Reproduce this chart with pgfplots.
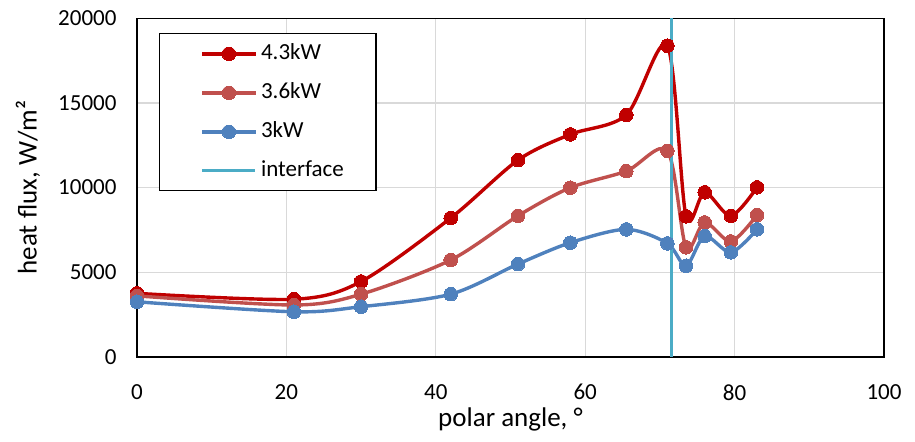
\documentclass[border=0pt]{standalone}
\usepackage{fontspec}
\setmainfont{Carlito}
\usepackage{pgfplots}
\pgfplotsset{compat=1.18}

\definecolor{kwhigh}{HTML}{C00000}
\definecolor{kwmid}{HTML}{C0504D}
\definecolor{kwlow}{HTML}{4F81BD}
\definecolor{iface}{HTML}{4BACC6}
\definecolor{gridgray}{HTML}{D9D9D9}

\begin{document}
\begin{tikzpicture}
\begin{axis}[
  scale only axis,
  width=747bp, height=338.5bp,
  xmin=0, xmax=100, ymin=0, ymax=20000,
  xtick={0,20,...,100},
  ytick={0,5000,...,20000},
  scaled y ticks=false,
  /pgf/number format/assume math mode=true,
  /pgf/number format/set thousands separator={},
  major tick length=0pt,
  grid=major,
  major grid style={draw=gridgray, line width=1.2bp},
  axis line style={draw=black, line width=1.5bp},
  tick label style={font=\fontsize{23bp}{26bp}\selectfont, text=black},
  yticklabel style={xshift=-17bp},
  xticklabel style={yshift=-24bp},
  label style={font=\fontsize{27bp}{30bp}\selectfont},
  xlabel={polar angle, °},
  xlabel style={at={(axis description cs:0.5,-0.2056)}, anchor=base},
  ylabel={heat flux, W/m²},
  ylabel style={at={(axis description cs:-0.1343,0.5)}, anchor=base, rotate=0},
  clip=false,
  legend cell align=left,
  legend style={
    at={(rel axis cs:0.0295,0.956)}, anchor=north west,
    draw=black, line width=1.3bp,
    font=\fontsize{23bp}{26bp}\selectfont,
    inner xsep=30bp, inner ysep=8bp,
    row sep=15bp,
    nodes={text height=16bp, text depth=4bp},
  },
  legend image code/.code={%
    \path (-11bp,0bp) (55bp,0bp);
    \draw[mark repeat=2, mark phase=2] plot coordinates {(0bp,0bp) (26.5bp,0bp) (53bp,0bp)};
  },
  every axis plot/.append style={line width=3.4bp},
]
\addplot[kwhigh, smooth, tension=0.5, mark=*, mark size=6.8bp, mark options={fill=kwhigh, draw=kwhigh, line width=0bp}]
  coordinates {(0,3750) (21,3400) (30,4450) (42,8200) (51,11620) (58,13140)
               (65.5,14290) (71,18380) (73.5,8300) (76,9720) (79.5,8330) (83,10010)};
\addlegendentry{4.3kW}
\addplot[kwmid, smooth, tension=0.5, mark=*, mark size=6.8bp, mark options={fill=kwmid, draw=kwmid, line width=0bp}]
  coordinates {(0,3600) (21,3060) (30,3700) (42,5720) (51,8330) (58,9990)
               (65.5,10970) (71,12170) (73.5,6470) (76,7940) (79.5,6820) (83,8380)};
\addlegendentry{3.6kW}
\addplot[kwlow, smooth, tension=0.5, mark=*, mark size=6.8bp, mark options={fill=kwlow, draw=kwlow, line width=0bp}]
  coordinates {(0,3250) (21,2660) (30,2960) (42,3700) (51,5480) (58,6740)
               (65.5,7530) (71,6700) (73.5,5380) (76,7130) (79.5,6170) (83,7530)};
\addlegendentry{3kW}
\addplot[iface, no marks, line width=3bp] coordinates {(71.6,0) (71.6,20000)};
\addlegendentry{interface}
\coordinate (sw) at (rel axis cs:0,0);
\coordinate (ne) at (rel axis cs:1,1);
\end{axis}
\pgfresetboundingbox
\path[use as bounding box] ([shift={(-137bp,-85bp)}]sw) rectangle ([shift={(31bp,18.3bp)}]ne);
\end{tikzpicture}
\end{document}
